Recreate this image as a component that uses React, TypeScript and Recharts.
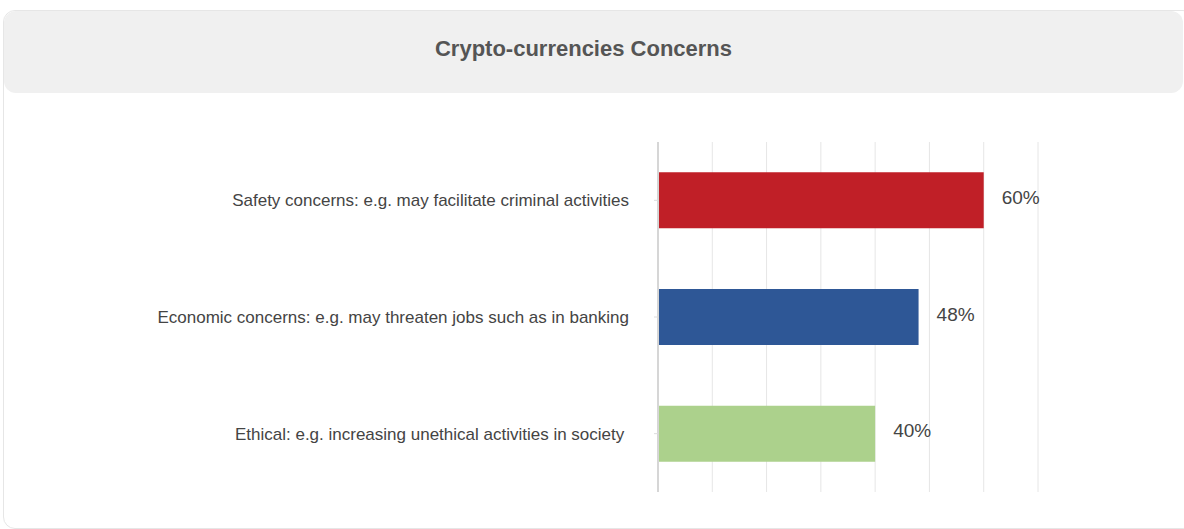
import { Bar, BarChart, CartesianGrid, Cell, LabelList, XAxis, YAxis } from "recharts";

const categories = [
  "Safety concerns: e.g. may facilitate criminal activities",
  "Economic concerns: e.g. may threaten jobs such as in banking",
  "Ethical: e.g. increasing unethical activities in society\u00a0",
];
const values = [60, 48, 40];
const barColors = ["#c01f27", "#2e5796", "#acd18c"];
const xTicks = [0, 10, 20, 30, 40, 50, 60, 70];

const data = categories.map((name, i) => ({ name, value: values[i] }));

const font = '"Liberation Sans", Arial, Helvetica, sans-serif';

export default function App() {
  return (
    <div style={{ position: "absolute", left: 0, top: 0, width: 1184, height: 529, overflow: "hidden", fontFamily: font }}>
      <div
        style={{
          position: "absolute",
          left: 3,
          top: 10,
          width: 1190,
          height: 517,
          border: "1.5px solid #e6e6e6",
          borderRadius: 12,
          background: "#fff",
        }}
      />
      <div
        style={{
          position: "absolute",
          left: 4,
          top: 11,
          width: 1179,
          height: 82,
          background: "#f0f0f0",
          borderRadius: 12,
          display: "flex",
          alignItems: "center",
          justifyContent: "center",
          boxSizing: "border-box",
          paddingRight: 20,
          paddingBottom: 6,
          color: "#555",
          fontWeight: "bold",
          fontSize: 22,
        }}
      >
        Crypto-currencies Concerns
      </div>
      <div style={{ position: "absolute", left: 0, top: 100 }}>
        <BarChart
          width={1184}
          height={420}
          data={data}
          layout="vertical"
          barCategoryGap="26%"
          margin={{ top: 42, right: 146, bottom: 28, left: 0 }}
        >
          <CartesianGrid horizontal={false} stroke="#e6e6e6" strokeWidth={1} />
          <XAxis
            type="number"
            domain={[0, 70]}
            ticks={xTicks}
            height={0}
            tick={{ fill: "none", fontSize: 1 }}
            axisLine={false}
            tickLine={false}
          />
          <YAxis
            type="category"
            dataKey="name"
            width={658}
            axisLine={{ stroke: "#d6d6d6", strokeWidth: 2 }}
            tickLine={{ stroke: "#dcdcdc" }}
            tickSize={4}
            tickMargin={25}
            tick={{ fill: "#444", fontSize: 17, fontFamily: font }}
          />
          <Bar dataKey="value" isAnimationActive={false}>
            {data.map((d, i) => (
              <Cell key={d.name} fill={barColors[i]} />
            ))}
            <LabelList
              dataKey="value"
              position="right"
              offset={18}
              dy={-3}
              formatter={(v: any) => `${v}%`}
              style={{ fill: "#444", fontSize: 19, fontFamily: font }}
            />
          </Bar>
        </BarChart>
      </div>
    </div>
  );
}
